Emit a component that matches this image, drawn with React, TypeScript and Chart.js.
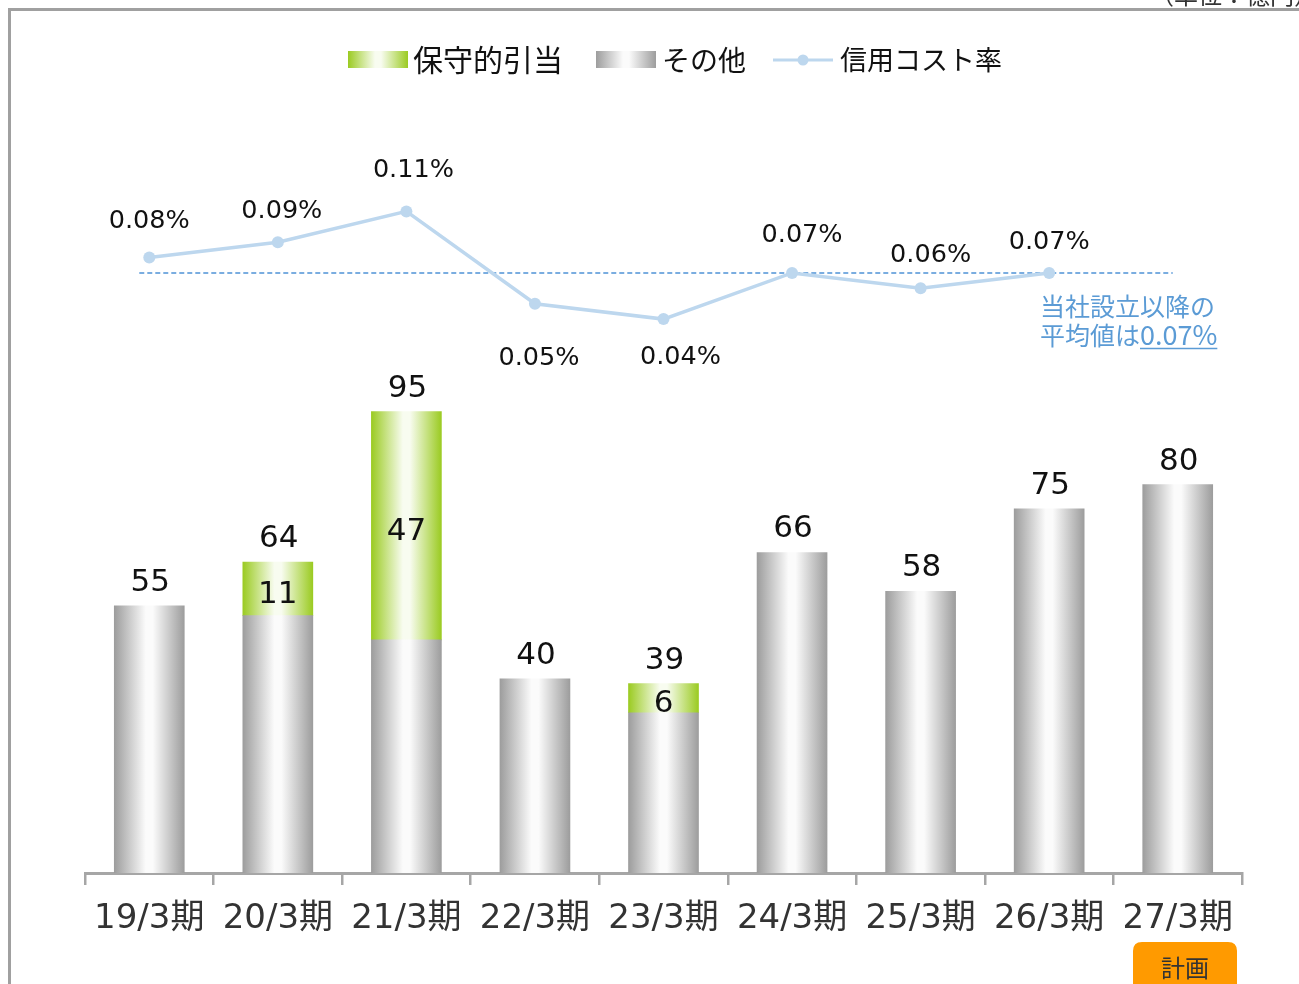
import React, { useEffect, useRef } from "react";
import { Chart, registerables } from "chart.js";

Chart.register(...registerables);

// ---- data ----
const categories = ["19/3期", "20/3期", "21/3期", "22/3期", "23/3期", "24/3期", "25/3期", "26/3期", "27/3期"];
const otherValues = [55, 53, 48, 40, 33, 66, 58, 75, 80];
const conservativeValues: (number | null)[] = [null, 11, 47, null, 6, null, null, null, null];
const creditCostRate: (number | null)[] = [0.08, 0.09, 0.11, 0.05, 0.04, 0.07, 0.06, 0.07, null];
const averageRate = 0.07;
const seriesNames = ["保守的引当", "その他", "信用コスト率"];
const unitText = "（単位：億円）";
const noteLine1 = "当社設立以降の";
const noteLine2a = "平均値は";
const noteLine2b = "0.07%";
const planBadge = "計画";

// ---- styles ----
const NUM_FONT = '"DejaVu Sans", "Noto Sans CJK JP", sans-serif';
const JP_FONT = '"Noto Sans CJK JP", "DejaVu Sans", sans-serif';
const BAR_W = 70;
const LINE_COLOR = "#bdd7ee";
const AVG_COLOR = "#4f93d6";
const NOTE_COLOR = "#5b9bd5";
const AXIS_COLOR = "#a6a6a6";
const rateLabelDy = [-36, -31, -41, 55, 38, -38, -33, -31];
const rateLabelDx = [0, 4, 7, 4, 17, 10, 10, 0];

function makeGrad(ctx: CanvasRenderingContext2D, x0: number, w: number, edge: string, mid: string) {
  const g = ctx.createLinearGradient(x0, 0, x0 + w, 0);
  g.addColorStop(0, edge);
  g.addColorStop(0.45, mid);
  g.addColorStop(0.55, mid);
  g.addColorStop(1, edge);
  return g;
}

const GRAY_EDGE = "#9d9d9d";
const GRAY_MID = "#fbfbfb";
const GREEN_EDGE = "#9bcb22";
const GREEN_MID = "#f8fcf0";

function barBg(edge: string, mid: string) {
  return (c: any) => {
    const chart = c.chart;
    const xs = chart.scales && chart.scales.x;
    if (!xs || c.type !== "data" || c.dataIndex == null) return edge;
    const cx = xs.getPixelForValue(c.dataIndex);
    if (!isFinite(cx)) return edge;
    return makeGrad(chart.ctx, cx - BAR_W / 2, BAR_W, edge, mid);
  };
}

const decorPlugin = {
  id: "decor",
  beforeDraw(chart: any) {
    const ctx: CanvasRenderingContext2D = chart.ctx;
    ctx.save();
    // frame
    ctx.fillStyle = "#a0a0a0";
    ctx.fillRect(8, 8, chart.width - 8, 3);
    ctx.fillRect(8, 8, 3, chart.height - 8);
    // unit text (clipped at top)
    ctx.fillStyle = "#333";
    ctx.font = `24px ${JP_FONT}`;
    ctx.textAlign = "right";
    ctx.textBaseline = "bottom";
    ctx.fillText(unitText, 1318, 7);

    // legend
    const ly = 60;
    ctx.textAlign = "left";
    ctx.textBaseline = "middle";
    ctx.fillStyle = makeGrad(ctx, 348, 60, GREEN_EDGE, GREEN_MID);
    ctx.fillRect(348, 51, 60, 17);
    ctx.fillStyle = "#111";
    ctx.font = `30px ${JP_FONT}`;
    ctx.fillText(seriesNames[0], 413, ly);
    ctx.fillStyle = makeGrad(ctx, 596, 60, GRAY_EDGE, GRAY_MID);
    ctx.fillRect(596, 51, 60, 17);
    ctx.fillStyle = "#111";
    ctx.font = `28px ${JP_FONT}`;
    ctx.fillText(seriesNames[1], 662, ly);
    ctx.strokeStyle = LINE_COLOR;
    ctx.lineWidth = 3;
    ctx.beginPath();
    ctx.moveTo(773, ly);
    ctx.lineTo(833, ly);
    ctx.stroke();
    ctx.fillStyle = LINE_COLOR;
    ctx.beginPath();
    ctx.arc(803, ly, 5.5, 0, Math.PI * 2);
    ctx.fill();
    ctx.fillStyle = "#111";
    ctx.font = `27px ${JP_FONT}`;
    ctx.fillText(seriesNames[2], 840, ly);

    // plan badge
    ctx.fillStyle = "#ff9a00";
    const bx = 1133, by = 942, bw = 104, bh = 60, r = 9;
    ctx.beginPath();
    ctx.moveTo(bx + r, by);
    ctx.lineTo(bx + bw - r, by);
    ctx.quadraticCurveTo(bx + bw, by, bx + bw, by + r);
    ctx.lineTo(bx + bw, by + bh);
    ctx.lineTo(bx, by + bh);
    ctx.lineTo(bx, by + r);
    ctx.quadraticCurveTo(bx, by, bx + r, by);
    ctx.fill();
    ctx.fillStyle = "#333";
    ctx.font = `24px ${JP_FONT}`;
    ctx.textAlign = "center";
    ctx.fillText(planBadge, 1185, 968);
    ctx.restore();
  },
  beforeDatasetsDraw(chart: any) {
    const ctx: CanvasRenderingContext2D = chart.ctx;
    const xs = chart.scales.x;
    const y2 = chart.scales.y2;
    const y = Math.round(y2.getPixelForValue(averageRate));
    ctx.save();
    ctx.strokeStyle = AVG_COLOR;
    ctx.lineWidth = 1.5;
    ctx.setLineDash([5, 3]);
    ctx.beginPath();
    ctx.moveTo(xs.getPixelForValue(0) - 10, y);
    ctx.lineTo(xs.getPixelForValue(categories.length - 1) - 5, y);
    ctx.stroke();
    ctx.setLineDash([]);
    // note
    ctx.fillStyle = NOTE_COLOR;
    ctx.font = `25px ${JP_FONT}`;
    ctx.textAlign = "left";
    ctx.textBaseline = "middle";
    ctx.fillText(noteLine1, 1040, 306);
    ctx.fillText(noteLine2a, 1040, 335);
    const w1 = ctx.measureText(noteLine2a).width;
    ctx.font = `27px ${JP_FONT}`;
    ctx.fillText(noteLine2b, 1040 + w1, 335);
    const w2 = ctx.measureText(noteLine2b).width;
    ctx.strokeStyle = NOTE_COLOR;
    ctx.lineWidth = 1.5;
    ctx.beginPath();
    ctx.moveTo(1040 + w1, 348.5);
    ctx.lineTo(1040 + w1 + w2, 348.5);
    ctx.stroke();
    ctx.restore();
  },
  afterDatasetsDraw(chart: any) {
    const ctx: CanvasRenderingContext2D = chart.ctx;
    const xs = chart.scales.x;
    const ys = chart.scales.y;
    ctx.save();
    ctx.fillStyle = "#111";
    ctx.textAlign = "center";
    // totals
    ctx.font = `31px ${NUM_FONT}`;
    ctx.textBaseline = "alphabetic";
    for (let i = 0; i < categories.length; i++) {
      const total = otherValues[i] + (conservativeValues[i] || 0);
      const x = xs.getPixelForValue(i);
      ctx.fillText(String(total), x + 1, ys.getPixelForValue(total) - 15);
      const c = conservativeValues[i];
      if (c) {
        ctx.textBaseline = "middle";
        ctx.fillText(String(c), x, ys.getPixelForValue(otherValues[i] + c / 2) + 6);
        ctx.textBaseline = "alphabetic";
      }
    }
    // rate labels
    ctx.font = `25.5px ${NUM_FONT}`;
    ctx.textBaseline = "middle";
    const meta = chart.getDatasetMeta(2);
    creditCostRate.forEach((v, i) => {
      if (v == null) return;
      const p = meta.data[i];
      ctx.fillText(`${v.toFixed(2)}%`, p.x + rateLabelDx[i], p.y + rateLabelDy[i]);
    });
    ctx.restore();
  },
};

export default function App() {
  const ref = useRef<HTMLCanvasElement | null>(null);
  useEffect(() => {
    if (!ref.current) return;
    const chart = new Chart(ref.current, {
      type: "bar",
      data: {
        labels: categories,
        datasets: [
          {
            label: seriesNames[1],
            data: otherValues,
            backgroundColor: barBg(GRAY_EDGE, GRAY_MID),
            stack: "s",
            barThickness: BAR_W,
            order: 2,
          },
          {
            label: seriesNames[0],
            data: conservativeValues,
            backgroundColor: barBg(GREEN_EDGE, GREEN_MID),
            stack: "s",
            barThickness: BAR_W,
            order: 2,
          },
          {
            type: "line",
            label: seriesNames[2],
            data: creditCostRate,
            yAxisID: "y2",
            borderColor: LINE_COLOR,
            backgroundColor: LINE_COLOR,
            borderWidth: 3.5,
            pointRadius: 6,
            pointBorderWidth: 0,
            pointBackgroundColor: LINE_COLOR,
            tension: 0,
            order: 1,
            clip: false,
          } as any,
        ],
      },
      options: {
        responsive: false,
        animation: false,
        devicePixelRatio: 1,
        layout: { padding: { left: 85, right: 57, top: 96, bottom: 0 } },
        plugins: { legend: { display: false }, tooltip: { enabled: false } },
        scales: {
          x: {
            stacked: true,
            afterFit: (s: any) => {
              s.height = 111;
            },
            border: { display: true, color: AXIS_COLOR, width: 3 },
            grid: {
              display: true,
              drawOnChartArea: false,
              drawTicks: true,
              tickLength: 12,
              offset: true,
              color: AXIS_COLOR,
              lineWidth: 2.5,
            },
            ticks: {
              color: "#333",
              padding: 14,
              font: { size: 34, family: NUM_FONT },
              maxRotation: 0,
              autoSkip: false,
            },
          },
          y: { stacked: true, display: false, min: 0, max: 160 },
          y2: { display: false, min: -0.32, max: 0.185, position: "right" },
        },
      },
      plugins: [decorPlugin],
    });
    return () => chart.destroy();
  }, []);
  return (
    <div style={{ position: "absolute", left: 0, top: 0, width: 1299, height: 984, background: "#fff" }}>
      <canvas ref={ref} width={1299} height={984} style={{ display: "block" }} />
    </div>
  );
}
